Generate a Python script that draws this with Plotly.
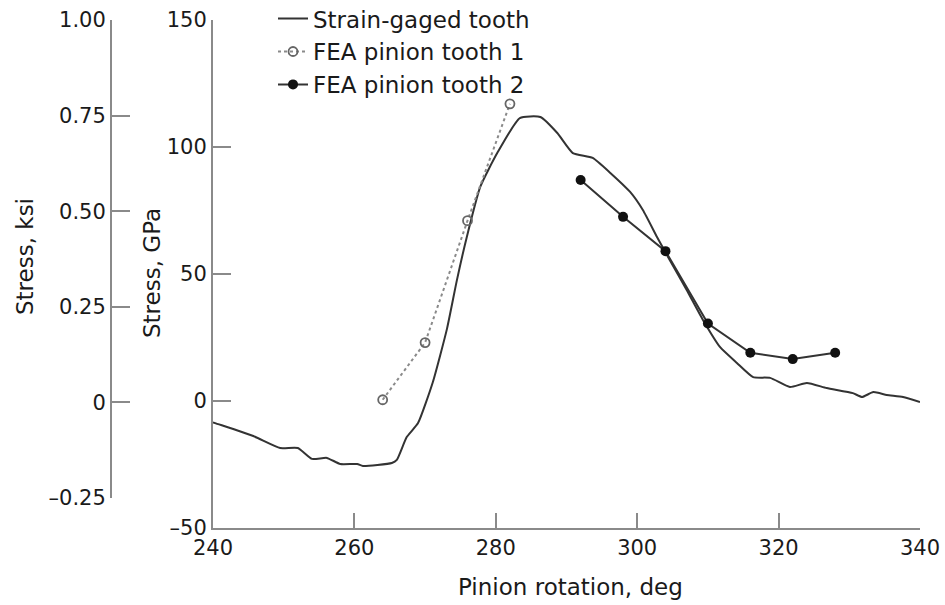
import plotly.graph_objects as go

# ---- data ----
strain_deg = [240.0, 240.3, 245.7, 249.5, 252.0, 254.0, 256.1, 258.0, 260.4, 261.2, 265.3, 266.0,
              267.4, 269.0, 271.1, 273.1, 274.5, 275.9, 277.8, 280.2, 283.4, 286.3, 288.7, 290.9,
              293.7, 296.2, 299.0, 300.8, 302.8, 304.6, 307.0, 309.3, 311.7, 314.1, 316.4, 318.8,
              321.6, 324.0, 326.8, 330.5, 331.8, 333.4, 335.3, 337.6, 340.0]
strain_gpa = [-8.4, -8.7, -13.8, -18.5, -18.5, -22.8, -22.4, -24.8, -24.8, -25.6, -24.4, -23.2,
              -14.2, -8.7, 7.5, 28.5, 47.6, 64.6, 84.3, 97.6, 111.4, 111.8, 105.5, 97.6,
              95.7, 89.8, 82.3, 75.2, 64.6, 55.5, 43.7, 31.9, 21.3, 15.0, 9.4, 9.1,
              5.5, 7.1, 5.1, 3.1, 1.6, 3.5, 2.4, 1.6, -0.4]

fea1_deg = [264, 270, 276, 282]
fea1_gpa = [0.5, 23, 71, 117]

fea2_deg = [292, 298, 304, 310, 316, 322, 328]
fea2_gpa = [87, 72.5, 59, 30.5, 19, 16.5, 19]

x_ticks = [240, 260, 280, 300, 320, 340]
gpa_ticks = [150, 100, 50, 0, -50]
gpa_labels = ["150", "100", "50", "0", "–50"]
ksi_ticks = [1.00, 0.75, 0.50, 0.25, 0, -0.25]
ksi_labels = ["1.00", "0.75", "0.50", "0.25", "0", "–0.25"]

FONT = "DejaVu Sans"
AX = "#8a8a8a"
TXT = "#1a1a1a"

fig = go.Figure()
fig.add_trace(go.Scatter(x=strain_deg, y=strain_gpa, mode="lines", name="Strain-gaged tooth",
                         line=dict(color="#333333", width=2, shape="spline", smoothing=0.5),
                         legendgroup="a"))
fig.add_trace(go.Scatter(x=fea1_deg, y=fea1_gpa, mode="lines+markers", name="FEA pinion tooth 1",
                         line=dict(color="#8a8a8a", width=2, dash="dot"),
                         marker=dict(symbol="circle-open", size=9, color="#666666", line=dict(width=1.8)),
                         legendgroup="b"))
fig.add_trace(go.Scatter(x=fea2_deg, y=fea2_gpa, mode="lines+markers", name="FEA pinion tooth 2",
                         line=dict(color="#333333", width=2),
                         marker=dict(symbol="circle", size=10, color="#111111"),
                         legendgroup="c"))
# dummy trace so the ksi axis is drawn
fig.add_trace(go.Scatter(x=[None], y=[None], yaxis="y2", showlegend=False, hoverinfo="skip"))

W, H = 945, 605
ml, mr, mt, mb = 60, 25, 20, 77
pw = W - ml - mr
ph = H - mt - mb

fig.update_layout(
    width=W, height=H,
    margin=dict(l=ml, r=mr, t=mt, b=mb, autoexpand=False),
    paper_bgcolor="white", plot_bgcolor="rgba(0,0,0,0)",
    font=dict(family=FONT, size=21, color=TXT),
    showlegend=True,
    legend=dict(x=(273 - ml) / pw, y=1.045, xanchor="left", yanchor="top",
                bgcolor="rgba(0,0,0,0)", font=dict(size=23, family=FONT, color=TXT),
                tracegroupgap=2, traceorder="normal"),
    xaxis=dict(domain=[(213 - ml) / pw, 1], range=[240, 340], tickvals=x_ticks,
               ticks="inside", ticklen=15, tickwidth=2, tickcolor=AX,
               showline=True, linecolor=AX, linewidth=2, showgrid=False, zeroline=False,
               tickfont=dict(size=21)),
    yaxis=dict(range=[-50, 150], tickvals=gpa_ticks, ticktext=gpa_labels,
               ticks="inside", ticklen=18, tickwidth=2, tickcolor=AX,
               showline=True, linecolor=AX, linewidth=2, showgrid=False, zeroline=False,
               tickfont=dict(size=21)),
    yaxis2=dict(anchor="free", position=(111 - ml) / pw, domain=[(528 - 498) / ph, 1],
                range=[-0.25, 1.0], tickvals=ksi_ticks, ticktext=ksi_labels,
                ticks="inside", ticklen=18, tickwidth=2, tickcolor=AX, side="left",
                showline=True, linecolor=AX, linewidth=2, showgrid=False, zeroline=False,
                tickfont=dict(size=21)),
)

# axis titles
fig.add_annotation(text="Pinion rotation, deg", xref="paper", yref="paper",
                   x=(570 - ml) / pw, y=-(587 - (H - mb)) / ph, showarrow=False,
                   font=dict(size=23, family=FONT, color=TXT), xanchor="center", yanchor="middle")
fig.add_annotation(text="Stress, GPa", xref="paper", yref="paper",
                   x=(152 - ml) / pw, y=(H - mb - 273) / ph, showarrow=False, textangle=-90,
                   font=dict(size=23, family=FONT, color=TXT), xanchor="center", yanchor="middle")
fig.add_annotation(text="Stress, ksi", xref="paper", yref="paper",
                   x=(25 - ml) / pw, y=(H - mb - 257) / ph, showarrow=False, textangle=-90,
                   font=dict(size=23, family=FONT, color=TXT), xanchor="center", yanchor="middle")

fig.write_html("out.html", config={"displayModeBar": False},
               post_script="document.body.style.margin='0';document.body.style.overflow='hidden';")
